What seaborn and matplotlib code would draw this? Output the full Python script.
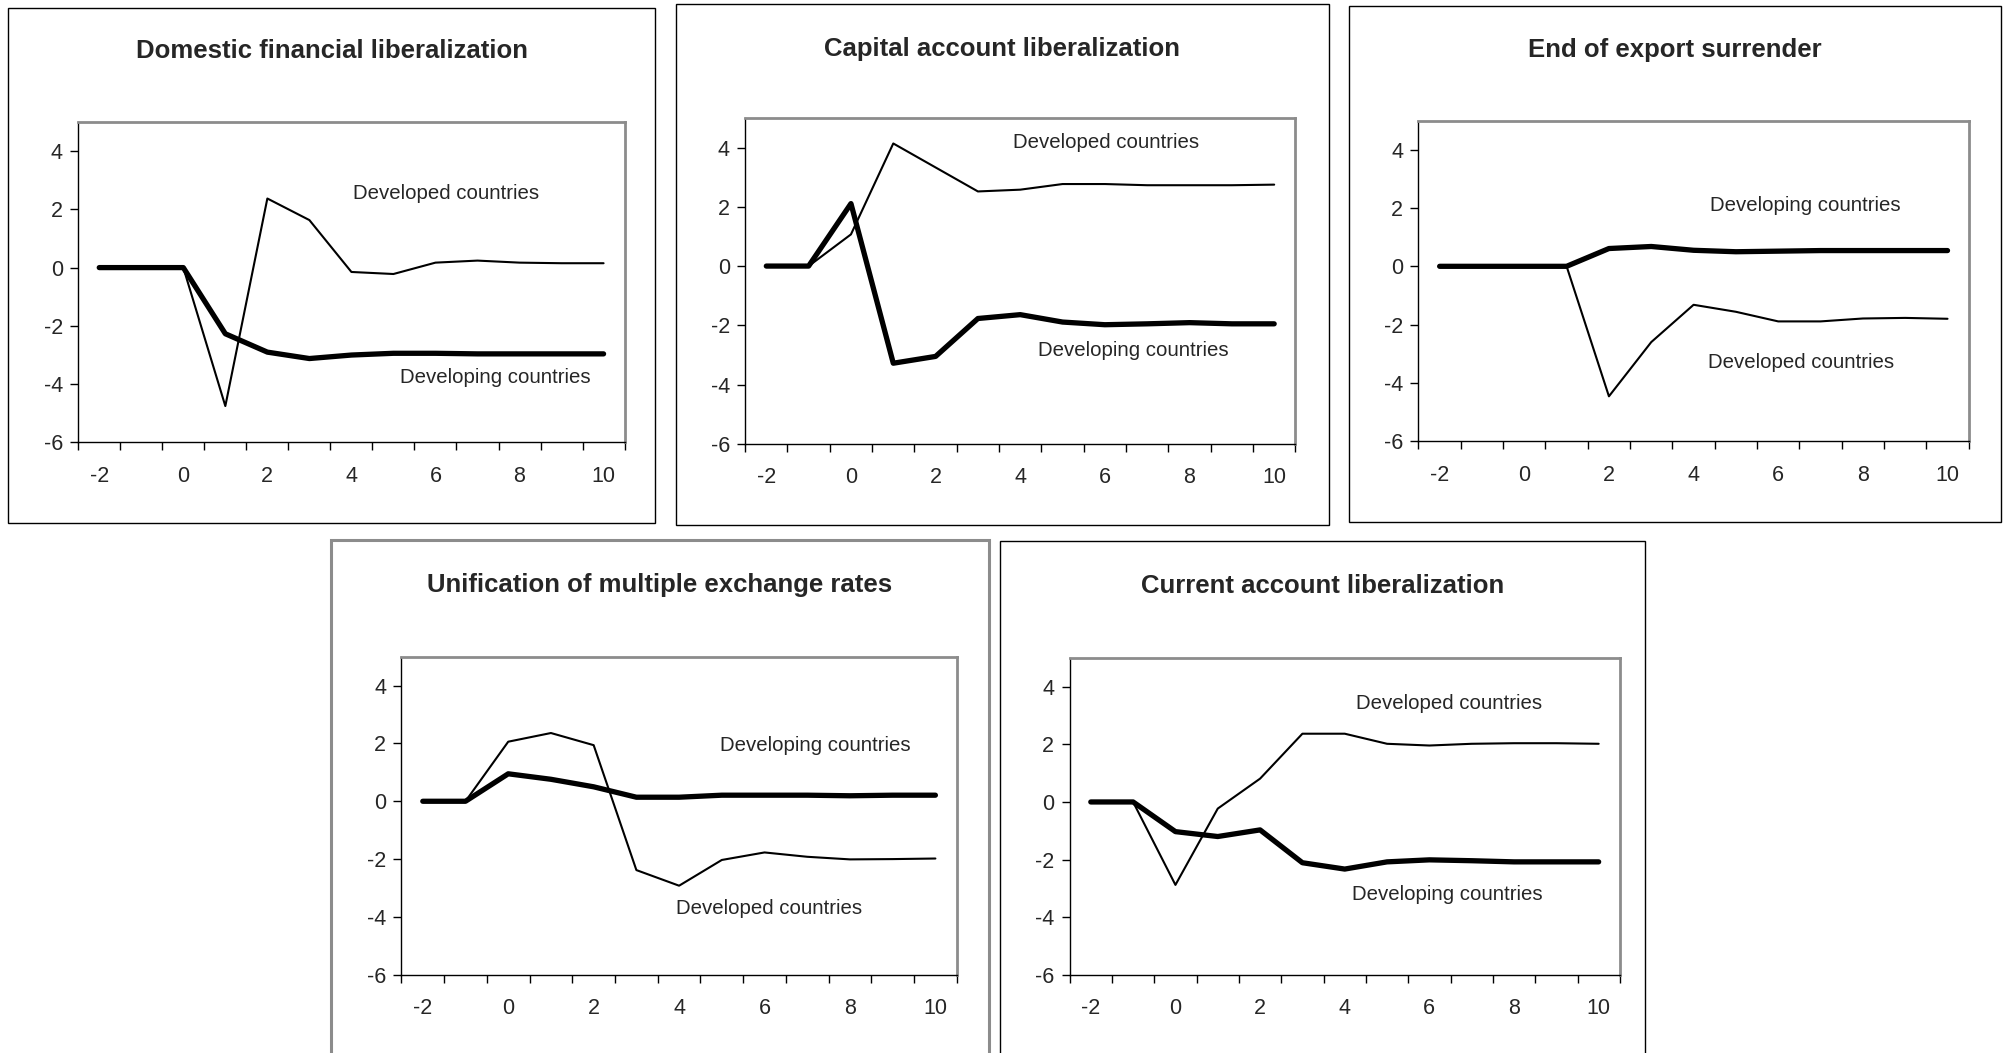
import numpy as np
import pandas as pd
import matplotlib
matplotlib.use("Agg")
import matplotlib.pyplot as plt
from matplotlib.patches import Rectangle
import seaborn as sns

# years relative to liberalization
periods = list(range(-2, 11))

titles = [
    "Domestic financial liberalization",
    "Capital account liberalization",
    "End of export surrender",
    "Unification of multiple exchange rates",
    "Current account liberalization",
]

dom_fin_developed = [0, 0, 0, -4.75, 2.37, 1.63, -0.15, -0.22, 0.17, 0.24, 0.17, 0.15, 0.15]
dom_fin_developing = [0, 0, 0, -2.27, -2.9, -3.12, -3.0, -2.94, -2.94, -2.96, -2.96, -2.96, -2.96]

cap_acc_developed = [0, 0, 1.07, 4.14, 3.33, 2.52, 2.58, 2.77, 2.77, 2.73, 2.73, 2.73, 2.75]
cap_acc_developing = [0, 0, 2.11, -3.28, -3.05, -1.77, -1.64, -1.89, -1.98, -1.95, -1.91, -1.95, -1.95]

exp_sur_developed = [0, 0, 0, 0, -4.46, -2.6, -1.32, -1.56, -1.89, -1.89, -1.79, -1.77, -1.8]
exp_sur_developing = [0, 0, 0, 0, 0.61, 0.68, 0.55, 0.5, 0.52, 0.54, 0.54, 0.54, 0.54]

unif_developed = [0, 0, 2.06, 2.36, 1.94, -2.38, -2.92, -2.03, -1.77, -1.92, -2.01, -2.0, -1.98]
unif_developing = [0, 0, 0.95, 0.76, 0.5, 0.14, 0.14, 0.21, 0.21, 0.21, 0.19, 0.21, 0.21]

cur_acc_developed = [0, 0, -2.88, -0.23, 0.81, 2.37, 2.37, 2.02, 1.96, 2.02, 2.04, 2.04, 2.02]
cur_acc_developing = [0, 0, -1.03, -1.2, -0.97, -2.11, -2.33, -2.08, -2.01, -2.04, -2.08, -2.08, -2.08]

developed_series = [dom_fin_developed, cap_acc_developed, exp_sur_developed, unif_developed, cur_acc_developed]
developing_series = [dom_fin_developing, cap_acc_developing, exp_sur_developing, unif_developing, cur_acc_developing]

sns.set_style("white")
plt.rcParams["font.family"] = ["Liberation Sans", "DejaVu Sans"]

W, H = 1568.0, 821.0
fig = plt.figure(figsize=(20.11, 10.53), dpi=100)

# layout measured on the reference (in 1568x821 units)
boxes = [(6, 6, 511, 408), (527, 3, 1036, 409), (1052, 5, 1560, 407),
         (258, 421, 771, 840), (780, 422, 1283, 840)]
axes_px = [(61, 95, 487, 345), (581, 92, 1010, 346), (1106, 94, 1535, 344),
           (313, 512, 746, 760), (834, 513, 1263, 760)]
title_y = [40, 38, 39, 456, 457]
box_colors = ["black", "black", "black", "#8c8c8c", "black"]
box_lw = [1.0, 1.0, 1.0, 2.2, 1.0]
# label text and anchor (data coords) for each panel
labels = [
    [("Developed countries", 4.03, 2.55), ("Developing countries", 5.15, -3.77)],
    [("Developed countries", 3.82, 4.18), ("Developing countries", 4.41, -2.85)],
    [("Developing countries", 4.38, 2.09), ("Developed countries", 4.34, -3.3)],
    [("Developing countries", 4.95, 1.94), ("Developed countries", 3.92, -3.72)],
    [("Developed countries", 4.27, 3.42), ("Developing countries", 4.18, -3.23)],
]

for i in range(5):
    x0, y0, x1, y1 = boxes[i]
    fig.patches.append(Rectangle((x0 / W, 1 - y1 / H), (x1 - x0) / W, (y1 - y0) / H,
                                 transform=fig.transFigure, fill=False,
                                 edgecolor=box_colors[i], linewidth=box_lw[i]))
    fig.text((x0 + x1) / 2 / W, 1 - title_y[i] / H, titles[i], ha="center", va="center",
             fontsize=18.5, fontweight="bold")

    ax0, ay0, ax1, ay1 = axes_px[i]
    ax = fig.add_axes([ax0 / W, 1 - ay1 / H, (ax1 - ax0) / W, (ay1 - ay0) / H])

    df = pd.DataFrame({"period": periods,
                       "developed": developed_series[i],
                       "developing": developing_series[i]})
    sns.lineplot(data=df, x="period", y="developed", ax=ax, color="black", linewidth=1.5)
    sns.lineplot(data=df, x="period", y="developing", ax=ax, color="black", linewidth=3.8,
                 solid_capstyle="round")

    for txt, tx, ty in labels[i]:
        ax.text(tx, ty, txt, ha="left", va="center", fontsize=14.7)

    ax.set_xlim(-2.5, 10.5)
    ax.set_ylim(-6, 5)
    ax.set_xlabel("")
    ax.set_ylabel("")
    ax.set_yticks([-6, -4, -2, 0, 2, 4])
    ax.set_yticklabels(["-6", "-4", "-2", "0", "2", "4"])
    ax.set_xticks(np.arange(-2.5, 11, 1))
    ax.set_xticklabels([])
    ax.set_xticks([-2, 0, 2, 4, 6, 8, 10], minor=True)
    ax.set_xticklabels(["-2", "0", "2", "4", "6", "8", "10"], minor=True)
    ax.tick_params(axis="x", which="major", direction="out", length=6, width=1, color="black", bottom=True)
    ax.tick_params(axis="x", which="minor", length=0, pad=17, labelsize=15.5)
    ax.tick_params(axis="y", direction="out", length=6, width=1, color="black", pad=5,
                   labelsize=15.5, left=True)
    for side in ["left", "bottom"]:
        ax.spines[side].set_color("black")
        ax.spines[side].set_linewidth(1.0)
        ax.spines[side].set_visible(True)
    for side in ["top", "right"]:
        ax.spines[side].set_color("#8c8c8c")
        ax.spines[side].set_linewidth(2.0)
        ax.spines[side].set_visible(True)
    ax.grid(False)

fig.savefig("out.png", dpi=100)
